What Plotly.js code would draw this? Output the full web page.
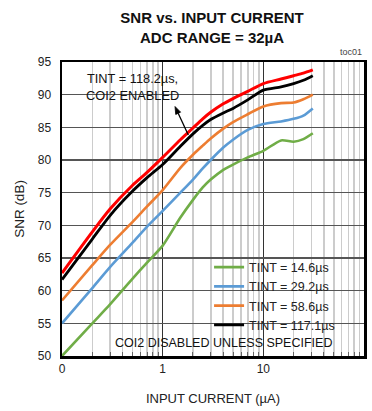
<!DOCTYPE html>
<html>
<head>
<meta charset="utf-8">
<script src="https://cdn.plot.ly/plotly-3.0.1.min.js"></script>
<style>html,body{margin:0;padding:0;background:#fff;}#chart{width:372px;height:411px;}</style>
</head>
<body>
<div id="chart"></div>
<script>
// Input current (µA)
const current = [0.1, 0.2, 0.3, 0.5, 0.7, 1, 1.5, 2, 2.5, 3, 4, 5, 7, 10, 15, 20, 25, 31];
// SNR (dB) per integration time
const snr_14_6  = [50.0, 55.0, 57.9, 61.8, 64.3, 66.9, 71.2, 73.9, 75.8, 77.0, 78.5, 79.3, 80.4, 81.4, 83.0, 82.8, 83.2, 84.1];
const snr_29_2  = [55.0, 60.4, 63.6, 67.3, 69.8, 72.2, 75.0, 77.0, 78.7, 80.0, 81.9, 83.1, 84.6, 85.5, 85.9, 86.3, 86.8, 87.9];
const snr_58_6  = [58.5, 63.9, 67.0, 70.5, 72.9, 75.4, 78.8, 80.8, 82.2, 83.3, 84.8, 85.8, 87.0, 88.2, 88.7, 88.8, 89.3, 90.0];
const snr_117_1 = [61.7, 67.9, 71.5, 75.2, 77.3, 79.3, 82.1, 84.0, 85.3, 86.2, 87.2, 87.9, 89.2, 90.7, 91.2, 91.7, 92.2, 92.9];
const snr_118_2_coi2 = [62.7, 69.0, 72.5, 76.1, 78.1, 80.4, 83.1, 84.9, 86.3, 87.3, 88.6, 89.4, 90.5, 91.7, 92.4, 92.9, 93.3, 93.8];

const seriesNames = ['TINT = 14.6µs', 'TINT = 29.2µs', 'TINT = 58.6µs', 'TINT = 117.1µs'];
const xTickVals = [0.1, 1, 10, 100];
const xTickText = ['0', '1', '10', '100'];
const xMinorVals = [0.2,0.3,0.4,0.5,0.6,0.7,0.8,0.9,2,3,4,5,6,7,8,9,20,30,40,50,60,70,80,90];
const yTickVals = [50, 55, 60, 65, 70, 75, 80, 85, 90, 95];

const FONT = '"Liberation Sans", Arial, sans-serif';

function tr(y, name, color, show, w) {
  return {x: current, y: y, name: name, type: 'scatter', mode: 'lines',
    line: {color: color, width: w, shape: 'spline', smoothing: 0.7},
    showlegend: show, hoverinfo: 'skip'};
}
const data = [
  tr(snr_14_6, seriesNames[0], '#70AD47', true, 2.6),
  tr(snr_29_2, seriesNames[1], '#5B9BD5', true, 2.6),
  tr(snr_58_6, seriesNames[2], '#ED7D31', true, 2.6),
  tr(snr_117_1, seriesNames[3], '#000000', true, 2.8),
  tr(snr_118_2_coi2, 'TINT = 118.2µs, COI2 ENABLED', '#FF0000', false, 3)
];

// plot-area pixel helpers for annotation decorations (plot spans x 62..364, y 62..356)
const px = v => (v - 62) / 302;
const py = v => (356 - v) / 294;
function arrowShapes(tx, ty, hx, hy) {
  const dx = hx - tx, dy = hy - ty, L = Math.hypot(dx, dy);
  const ux = dx / L, uy = dy / L, hl = 7.5, hw = 2.7;
  const bx = hx - hl * ux, by = hy - hl * uy;
  const p1 = [bx - hw * uy, by + hw * ux], p2 = [bx + hw * uy, by - hw * ux];
  return [
    {type: 'line', xref: 'paper', yref: 'paper', layer: 'above', x0: px(tx), y0: py(ty), x1: px(bx), y1: py(by), line: {color: '#000', width: 1.3}},
    {type: 'path', xref: 'paper', yref: 'paper', layer: 'above',
      path: `M${px(hx)},${py(hy)} L${px(p1[0])},${py(p1[1])} L${px(p2[0])},${py(p2[1])} Z`,
      fillcolor: '#000', line: {color: '#000', width: 0.8}}
  ];
}

const layout = {
  width: 372, height: 411,
  margin: {l: 62, r: 8, t: 62, b: 55},
  paper_bgcolor: '#fff', plot_bgcolor: '#fff',
  font: {family: FONT, size: 12, color: '#222'},
  title: {text: '<b>SNR vs. INPUT CURRENT<br>ADC RANGE = 32µA</b>', font: {family: FONT, size: 15, color: '#111'},
    x: 0.57, xref: 'container', xanchor: 'center', y: 0.944, yref: 'container', yanchor: 'top'},
  showlegend: true,
  legend: {x: 0.487, xanchor: 'left', y: 0.352, yanchor: 'top', bgcolor: 'rgba(0,0,0,0)',
    font: {family: FONT, size: 12.5, color: '#222'}, itemwidth: 30, tracegroupgap: 0, traceorder: 'normal'},
  xaxis: {type: 'log', range: [-1, 2], tickvals: xTickVals, ticktext: xTickText,
    showgrid: true, gridcolor: '#333', gridwidth: 1.2,
    showline: true, linecolor: '#000', linewidth: 2.5, mirror: true,
    ticks: 'inside', ticklen: 4, tickcolor: '#333', zeroline: false,
    tickfont: {family: FONT, size: 12, color: '#222'},
    minor: {tickvals: xMinorVals, showgrid: true, gridcolor: '#cccccc', gridwidth: 1.6, ticks: 'inside', ticklen: 4, tickcolor: '#666'},
    title: {text: 'INPUT CURRENT (µA)', font: {family: FONT, size: 13, color: '#222'}, standoff: 19}},
  yaxis: {range: [50, 95], tickvals: yTickVals, showgrid: true, gridcolor: '#555', gridwidth: 1.2,
    showline: true, linecolor: '#000', linewidth: 2.5, mirror: true, zeroline: false,
    ticks: '', ticklabelstandoff: 6,
    tickfont: {family: FONT, size: 12, color: '#222'},
    title: {text: 'SNR (dB)', font: {family: FONT, size: 13.5, color: '#222'}, standoff: 10}},
  shapes: [
    {type: 'rect', xref: 'paper', yref: 'paper', layer: 'between', x0: px(73), x1: px(190), y0: py(105), y1: 1, fillcolor: '#fff', line: {width: 0}},
    {type: 'rect', xref: 'paper', yref: 'paper', layer: 'between', x0: px(195), x1: px(361), y0: py(329), y1: py(259), fillcolor: '#fff', line: {width: 0}},
    {type: 'rect', xref: 'paper', yref: 'paper', layer: 'between', x0: 0, x1: 1, y0: py(352), y1: py(333), fillcolor: '#fff', line: {width: 0}}
  ].concat(arrowShapes(188.3, 135, 175, 106.5)),
  annotations: [
    {text: 'TINT = 118.2µs,<br>COI2 ENABLED', xref: 'paper', yref: 'paper', x: px(132.5), y: py(86.5),
      xanchor: 'center', yanchor: 'middle', showarrow: false, font: {family: FONT, size: 12.8, color: '#111'}},
    {text: 'COI2 DISABLED UNLESS SPECIFIED', xref: 'paper', yref: 'paper', x: px(223.5), y: py(343),
      xanchor: 'center', yanchor: 'middle', showarrow: false, font: {family: FONT, size: 12.5, color: '#111'}},
    {text: 'toc01', xref: 'paper', yref: 'paper', x: 1, y: 1, xanchor: 'right', yanchor: 'bottom', yshift: 3,
      showarrow: false, font: {family: FONT, size: 9, color: '#444'}}
  ]
};

Plotly.newPlot('chart', data, layout, {displayModeBar: false, staticPlot: true});
</script>
</body>
</html>
